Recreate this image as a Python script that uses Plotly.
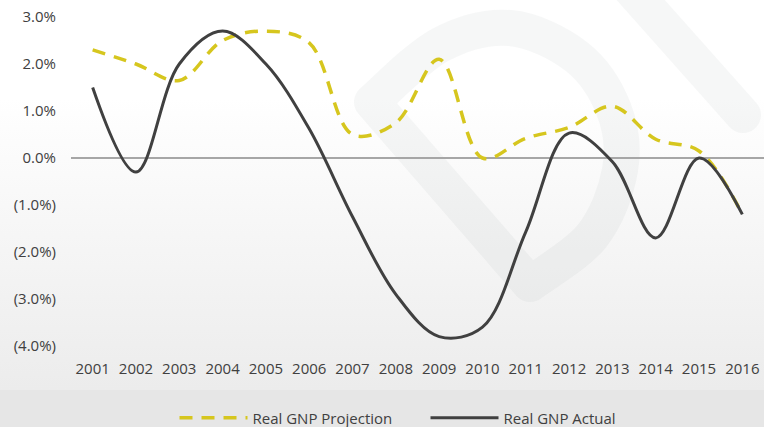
import base64
import plotly.graph_objects as go

# chart data
years = [str(y) for y in range(2001, 2017)]
projection = [2.3, 2.0, 1.65, 2.5, 2.7, 2.45, 0.5, 0.75, 2.1, 0.0,
              0.42, 0.65, 1.1, 0.4, 0.15, -1.2]
actual = [1.5, -0.3, 2.0, 2.7, 2.0, 0.62, -1.25, -2.9, -3.8, -3.6,
          -1.57, 0.53, -0.08, -1.7, 0.0, -1.2]
y_ticks = [3, 2, 1, 0, -1, -2, -3, -4]
y_tick_labels = ["3.0%", "2.0%", "1.0%", "0.0%", "(1.0%)", "(2.0%)", "(3.0%)", "(4.0%)"]

W, H = 764, 427
L, R, T, B = 71, 0, 17, 81
FONT = "Open Sans"
TXT = "#404040"


def smooth_path(pts):
    # catmull-rom through the points, written as svg cubic segments
    d = "M%.1f,%.1f" % pts[0]
    n = len(pts)
    for i in range(n - 1):
        p0 = pts[i - 1] if i > 0 else pts[i]
        p1, p2 = pts[i], pts[i + 1]
        p3 = pts[i + 2] if i + 2 < n else p2
        c1 = (p1[0] + (p2[0] - p0[0]) / 6, p1[1] + (p2[1] - p0[1]) / 6)
        c2 = (p2[0] - (p3[0] - p1[0]) / 6, p2[1] - (p3[1] - p1[1]) / 6)
        d += " C%.1f,%.1f %.1f,%.1f %.1f,%.1f" % (c1 + c2 + p2)
    return d


# background: soft vertical gradient + faint watermark
arc = [(530, 284), (592, 236), (620, 170), (614, 110), (577, 57),
       (510, 28), (440, 45), (372, 102)]
svg = f'''<svg xmlns="http://www.w3.org/2000/svg" width="{W}" height="{H}" viewBox="0 0 {W} {H}">
<defs><linearGradient id="g" x1="0" y1="0" x2="0" y2="1">
<stop offset="0" stop-color="#ffffff"/><stop offset="0.25" stop-color="#ffffff"/>
<stop offset="1" stop-color="#ececec"/></linearGradient></defs>
<rect x="0" y="0" width="{W}" height="390" fill="url(#g)"/>
<rect x="0" y="390" width="{W}" height="{H - 390}" fill="#e6e6e6"/>
<g fill="none" stroke="#9aa4a4" stroke-opacity="0.09" stroke-width="36"
   stroke-linecap="round" stroke-linejoin="round">
<path d="{smooth_path(arc)} Z"/>
<path d="M630,-12 L743,115"/>
</g></svg>'''
bg_src = "data:image/svg+xml;base64," + base64.b64encode(svg.encode()).decode()

pw, ph = W - L - R, H - T - B

fig = go.Figure()
fig.add_trace(go.Scatter(
    x=years, y=projection, name="Real GNP Projection", mode="lines",
    line=dict(color="#d6c61e", width=3.5, dash="13px,9px", shape="spline", smoothing=1.0),
    cliponaxis=False, hoverinfo="skip"))
fig.add_trace(go.Scatter(
    x=years, y=actual, name="Real GNP Actual", mode="lines",
    line=dict(color="#404040", width=3, shape="spline", smoothing=1.0),
    cliponaxis=False, hoverinfo="skip"))

fig.update_layout(
    width=W, height=H,
    margin=dict(l=L, r=R, t=T, b=B, autoexpand=False),
    paper_bgcolor="white", plot_bgcolor="rgba(0,0,0,0)",
    font=dict(family=FONT, size=15, color=TXT),
    images=[dict(source=bg_src, xref="paper", yref="paper",
                 x=-L / pw, y=1 + T / ph, sizex=W / pw, sizey=H / ph,
                 xanchor="left", yanchor="top", sizing="stretch", layer="below")],
    legend=dict(orientation="h", x=0.5 + 8 / pw, xanchor="center",
                y=(ph - (418 - T)) / ph, yanchor="middle",
                entrywidth=168, entrywidthmode="pixels", itemwidth=68,
                font=dict(family=FONT, size=15, color=TXT),
                bgcolor="rgba(0,0,0,0)"),
    xaxis=dict(type="category", range=[-0.5, 15.5], showgrid=False, zeroline=False,
               showline=False, ticks="", ticklabelstandoff=12,
               tickfont=dict(size=15, color=TXT)),
    yaxis=dict(range=[-4, 3], tickvals=y_ticks, ticktext=y_tick_labels,
               showgrid=False, zeroline=True, zerolinecolor="#a6a6a6", zerolinewidth=2,
               showline=False, ticks="", ticklabelstandoff=14,
               tickfont=dict(size=15, color=TXT)),
)

# drop the page's default body margin so the figure sits at the window's corner
fig.write_html("out.html", config={"displayModeBar": False},
               post_script="document.body.style.margin='0';document.body.style.overflow='hidden';")
